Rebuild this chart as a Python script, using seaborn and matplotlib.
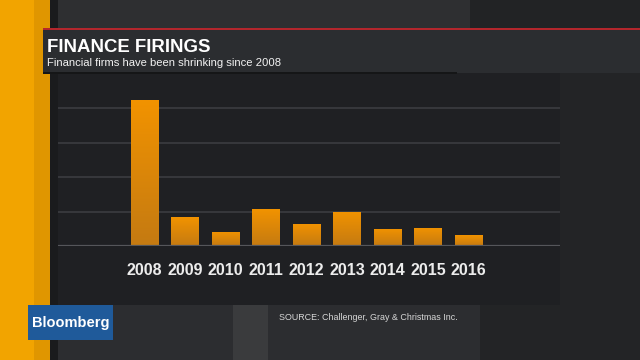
import numpy as np
import pandas as pd
import seaborn as sns
import matplotlib.pyplot as plt
from matplotlib.patches import Rectangle

# Finance job cuts by year (thousands)
years = ['2008', '2009', '2010', '2011', '2012', '2013', '2014', '2015', '2016']
cuts = [254, 50, 25, 64, 39, 60, 30, 32, 19]

title = 'FINANCE FIRINGS'
subtitle = 'Financial firms have been shrinking since 2008'
source = 'SOURCE: Challenger, Gray & Christmas Inc.'

df = pd.DataFrame({'year': years, 'cuts': cuts})

sns.set_theme(style='dark')
plt.rcParams['font.family'] = ['Liberation Sans', 'DejaVu Sans']

fig = plt.figure(figsize=(6.4, 3.6), dpi=100)
fig.patch.set_facecolor('#2a2b2e')

W, H = 640, 360


def box(x, y, w, h, color, z=0):
    # rectangle in pixel coords (top-left origin)
    fig.patches.append(Rectangle((x / W, 1 - (y + h) / H), w / W, h / H,
                                 transform=fig.transFigure, facecolor=color,
                                 edgecolor='none', zorder=z))


# background streaks
box(0, 0, 640, 28, '#2e2f31', 0)
box(470, 0, 170, 28, '#222325', 0)
box(0, 303, 640, 57, '#2c2d30', 0)
box(233, 303, 35, 57, '#3a3b3d', 0)
box(480, 303, 160, 57, '#232426', 0)
box(560, 73, 80, 232, '#232426', 0)
# orange stripe
box(0, 0, 50, 360, '#f2a400', 1)
box(34, 0, 16, 360, '#e09600', 1)
box(50, 0, 8, 360, '#1a1b1d', 1)
# header
box(43, 28, 597, 2.5, '#b3262c', 2)
box(43, 30.5, 597, 42, '#2b2d30', 2)
box(43, 72, 414, 1.5, '#151617', 2)
# chart panel
box(58, 73.5, 502, 231.5, '#1f2023', 1)
# bloomberg logo
box(28, 305, 85, 35, '#1f5a9a', 3)

fig.text(47 / W, 1 - 52 / H, title, color='white', fontsize=13.4,
         fontweight='bold', va='baseline', ha='left')
fig.text(47 / W, 1 - 66 / H, subtitle, color='#f2f2f2', fontsize=8.1,
         va='baseline', ha='left')
fig.text(70.5 / W, 1 - 322.5 / H, 'Bloomberg', color='white', fontsize=10.5,
         fontweight='bold', va='center', ha='center', zorder=4)
fig.text(279 / W, 1 - 320 / H, source, color='#d8d8d8', fontsize=6.4,
         va='baseline', ha='left')

# axes: baseline at y=246 px, gridline step 34.5 px
step = 60.0
px_per_unit = 34.5 / step
ax = fig.add_axes([58 / W, (H - 246) / H, 502 / W, (246 - 90) / H])
ax.set_zorder(5)
ax.set_facecolor('none')
sns.barplot(data=df, x='year', y='cuts', color='#e8900a', width=0.68,
            saturation=1, linewidth=0, edgecolor='none', ax=ax)
ax.set_yticks([step * i for i in range(1, 5)])
ax.set_yticklabels([])
ax.yaxis.grid(True, color='#3b3c40', linewidth=1.2)
ax.xaxis.grid(False)
ax.set_axisbelow(True)
ax.axhline(0, color='#55565a', linewidth=1.6, zorder=3)
ax.set_xlabel('')
ax.set_ylabel('')
ax.tick_params(axis='x', length=0, pad=12, labelsize=11.5, labelcolor='#ececec')
for lab in ax.get_xticklabels():
    lab.set_fontweight('bold')
ax.tick_params(axis='y', length=0)
for s in ax.spines.values():
    s.set_visible(False)

# vertical orange gradient on each bar
grad = np.linspace(0, 1, 256).reshape(-1, 1)
cmap = sns.blend_palette(['#c47a12', '#f29300'], as_cmap=True)
for p in list(ax.patches):
    x0, y0 = p.get_x(), p.get_y()
    im = ax.imshow(grad, extent=[x0, x0 + p.get_width(), y0, y0 + p.get_height()],
                   origin='lower', cmap=cmap, aspect='auto', zorder=2)
    im.set_clip_path(p)
ax.set_xlim(-2.14, 10.26)
ax.set_ylim(0, (246 - 90) / px_per_unit)

fig.savefig('out.png', dpi=100, facecolor=fig.get_facecolor())
